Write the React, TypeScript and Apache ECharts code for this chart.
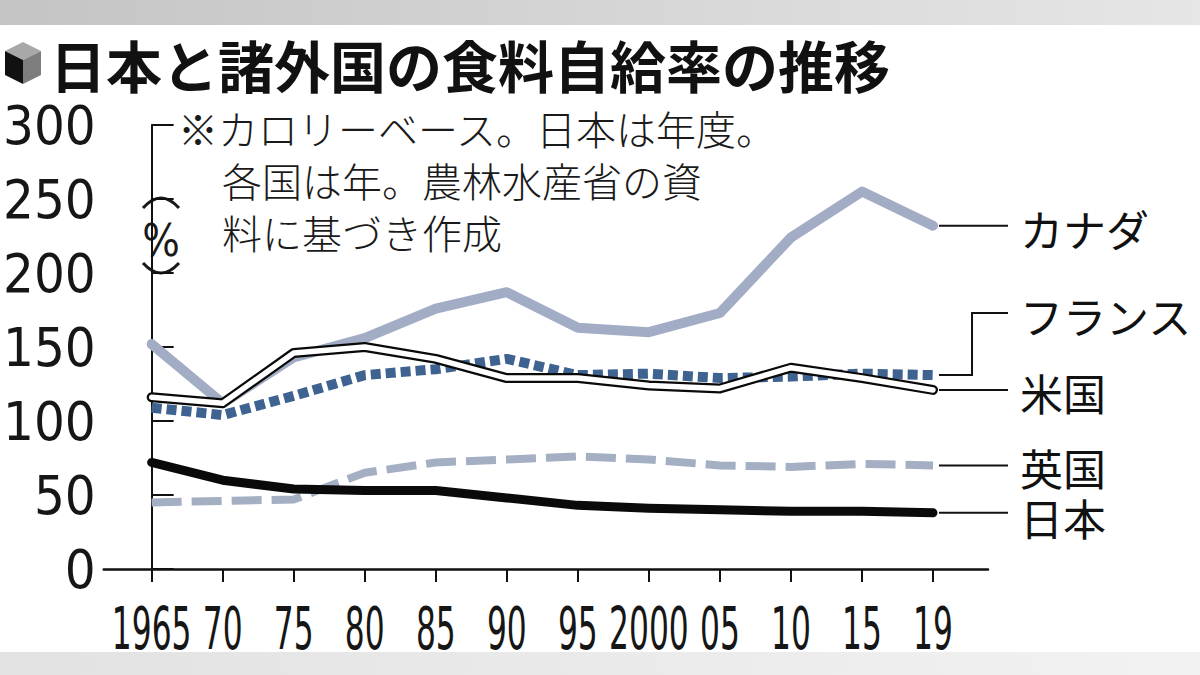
import React, { useEffect, useRef } from 'react';
import * as echarts from 'echarts';

// 食料自給率（カロリーベース, %）
const years = ['1965', '70', '75', '80', '85', '90', '95', '2000', '05', '10', '15', '19'];
const canada = [152, 112, 143, 156, 176, 187, 163, 160, 173, 224, 255, 232];
const france = [109, 104, 117, 131, 135, 142, 131, 132, 129, 130, 132, 131];
const usa = [116, 112, 146, 150, 142, 129, 129, 124, 122, 136, 129, 121];
const uk = [45, 46, 47, 65, 72, 74, 76, 74, 70, 69, 71, 70];
const japan = [72, 60, 54, 53, 53, 48, 43, 41, 40, 39, 39, 38];
const yTicks = [0, 50, 100, 150, 200, 250, 300];

const title = '日本と諸外国の食料自給率の推移';
const noteFirst = '※カロリーベース。日本は年度。';
const noteRest = '各国は年。農林水産省の資\n料に基づき作成';

const numFont = "'Liberation Sans Narrow', 'DejaVu Sans Condensed', 'Roboto', sans-serif";
const jpFont = "'Noto Sans CJK JP', 'Noto Sans', sans-serif";

const App: React.FC = () => {
  const chartRef = useRef<HTMLDivElement>(null);

  useEffect(() => {
    if (!chartRef.current) return;
    document.body.style.margin = '0';

    const chart = echarts.init(chartRef.current, undefined, { renderer: 'svg' });
    const idx = years.map((_, i) => i);
    const pairs = (arr: number[]) => arr.map((v, i) => [i, v]);

    const baseGraphic: any[] = [
      {
        type: 'rect', shape: { x: 0, y: 0, width: 1200, height: 25 }, silent: true,
        style: {
          fill: new echarts.graphic.LinearGradient(0, 0, 1, 0, [
            { offset: 0, color: '#c4c4c4' },
            { offset: 1, color: '#e6e6e6' },
          ]),
        },
      },
      {
        type: 'rect', shape: { x: 0, y: 652, width: 1200, height: 23 }, silent: true,
        style: {
          fill: new echarts.graphic.LinearGradient(0, 0, 1, 0, [
            { offset: 0, color: '#e2e2e2' },
            { offset: 1, color: '#f2f2f2' },
          ]),
        },
      },
      // cube icon
      { type: 'polygon', shape: { points: [[23, 42], [41, 51], [23, 60], [5, 51]] }, style: { fill: '#a8a8a8' } },
      { type: 'polygon', shape: { points: [[5, 51], [23, 60], [23, 84], [5, 75]] }, style: { fill: '#111' } },
      { type: 'polygon', shape: { points: [[23, 60], [41, 51], [41, 75], [23, 84]] }, style: { fill: '#7d7d7d' } },
      {
        type: 'text', x: 50, y: 63,
        style: {
          text: title, fontFamily: jpFont, fontSize: 56, fontWeight: 'bold', fill: '#111',
          verticalAlign: 'middle',
        },
      },
      {
        type: 'text', x: 178, y: 128,
        style: {
          text: noteFirst, fontFamily: jpFont, fontSize: 40, lineHeight: 44, fontWeight: 300,
          fill: '#1a1a1a', verticalAlign: 'middle',
        },
      },
      {
        type: 'text', x: 222, y: 154,
        style: {
          text: noteRest, fontFamily: jpFont, fontSize: 40, lineHeight: 52, fontWeight: 300,
          fill: '#1a1a1a', verticalAlign: 'top',
        },
      },
      // (%) 縦書き
      {
        type: 'bezierCurve', shape: { x1: 143, y1: 208, x2: 179, y2: 208, cpx1: 161, cpy1: 188 },
        style: { stroke: '#1a1a1a', lineWidth: 3, fill: null },
      },
      {
        type: 'text', x: 161, y: 240,
        style: { text: '%', fontFamily: numFont, fontSize: 44, fill: '#1a1a1a', align: 'center', verticalAlign: 'middle' },
      },
      {
        type: 'bezierCurve', shape: { x1: 143, y1: 263, x2: 179, y2: 263, cpx1: 161, cpy1: 283 },
        style: { stroke: '#1a1a1a', lineWidth: 3, fill: null },
      },
    ];

    const option = {
      animation: false,
      backgroundColor: '#fff',
      grid: { left: 103, right: 212, top: 125, bottom: 106 },
      xAxis: {
        type: 'value',
        min: -0.675,
        max: 11.774,
        splitLine: { show: false },
        axisLine: { show: true, lineStyle: { color: '#111', width: 2.5 } },
        axisTick: { show: true, customValues: idx, length: 13, lineStyle: { color: '#111', width: 2 } },
        axisLabel: { show: false },
      },
      yAxis: {
        type: 'value',
        min: yTicks[0],
        max: yTicks[yTicks.length - 1],
        interval: 50,
        splitLine: { show: false },
        axisLine: { show: true, lineStyle: { color: '#111', width: 2 } },
        axisTick: { show: true, inside: true, length: 22, lineStyle: { color: '#111', width: 2 } },
        axisLabel: { fontFamily: numFont, fontSize: 54, color: '#161616', margin: 8 },
      },
      series: [
        {
          name: 'カナダ', type: 'line', data: pairs(canada), showSymbol: false, z: 2,
          lineStyle: { color: '#a2adc5', width: 10, cap: 'round', join: 'round' },
        },
        {
          name: 'フランス', type: 'line', data: pairs(france), showSymbol: false, z: 3,
          lineStyle: { color: '#3f6391', width: 10, type: [10, 5], cap: 'butt' },
        },
        {
          name: '英国', type: 'line', data: pairs(uk), showSymbol: false, z: 3,
          lineStyle: { color: '#a4afc4', width: 8, type: [30, 10], cap: 'butt' },
        },
        {
          name: '日本', type: 'line', data: pairs(japan), showSymbol: false, z: 4,
          lineStyle: { color: '#0a0a0a', width: 9, cap: 'round', join: 'round' },
        },
        {
          name: '米国', type: 'line', data: pairs(usa), showSymbol: false, z: 5,
          lineStyle: { color: '#0a0a0a', width: 10, cap: 'round', join: 'round' },
        },
        {
          name: '米国白', type: 'line', data: pairs(usa), showSymbol: false, z: 6,
          lineStyle: { color: '#ffffff', width: 5.5, cap: 'round', join: 'round' },
        },
      ],
      graphic: baseGraphic,
    };

    chart.setOption(option);

    const last = years.length - 1;
    const extra: any[] = [];

    // 横軸の年ラベル（細長い書体の代わりに横方向を縮める）
    years.forEach((y, i) => {
      const [px, py] = chart.convertToPixel({ gridIndex: 0 }, [i, 0]) as number[];
      extra.push({
        type: 'text', x: px, y: py + 60, scaleX: 0.6,
        style: {
          text: y, fontFamily: numFont, fontSize: 58, lineHeight: 58, fill: '#161616',
          align: 'center', verticalAlign: 'middle',
        },
      });
    });

    // 系列名ラベルと引き出し線（最終年の点の位置から）
    const ends = [
      { name: 'カナダ', value: canada[last], dy: 0, elbow: false },
      { name: 'フランス', value: france[last], dy: -62, elbow: true },
      { name: '米国', value: usa[last], dy: 0, elbow: false },
      { name: '英国', value: uk[last], dy: 0, elbow: false },
      { name: '日本', value: japan[last], dy: 2, elbow: false },
    ];
    ends.forEach((e) => {
      const [px, py] = chart.convertToPixel({ gridIndex: 0 }, [last, e.value]) as number[];
      const pts = e.elbow
        ? [[px + 6, py], [px + 39, py], [px + 39, py + e.dy], [px + 75, py + e.dy]]
        : [[px + 6, py], [px + 75, py]];
      extra.push({
        type: 'polyline', z: 10, shape: { points: pts },
        style: { stroke: '#111', lineWidth: 2, fill: null },
      });
      extra.push({
        type: 'text', z: 10, x: px + 87, y: py + e.dy + 2,
        style: {
          text: e.name, fontFamily: jpFont, fontSize: 43, lineHeight: 43, fill: '#111',
          verticalAlign: 'middle',
        },
      });
    });
    chart.setOption({ graphic: [...baseGraphic, ...extra] }, { replaceMerge: ['graphic'] });

    const handleResize = () => chart.resize();
    window.addEventListener('resize', handleResize);
    return () => {
      window.removeEventListener('resize', handleResize);
      chart.dispose();
    };
  }, []);

  return <div ref={chartRef} style={{ width: 1200, height: 675 }} />;
};

export default App;
